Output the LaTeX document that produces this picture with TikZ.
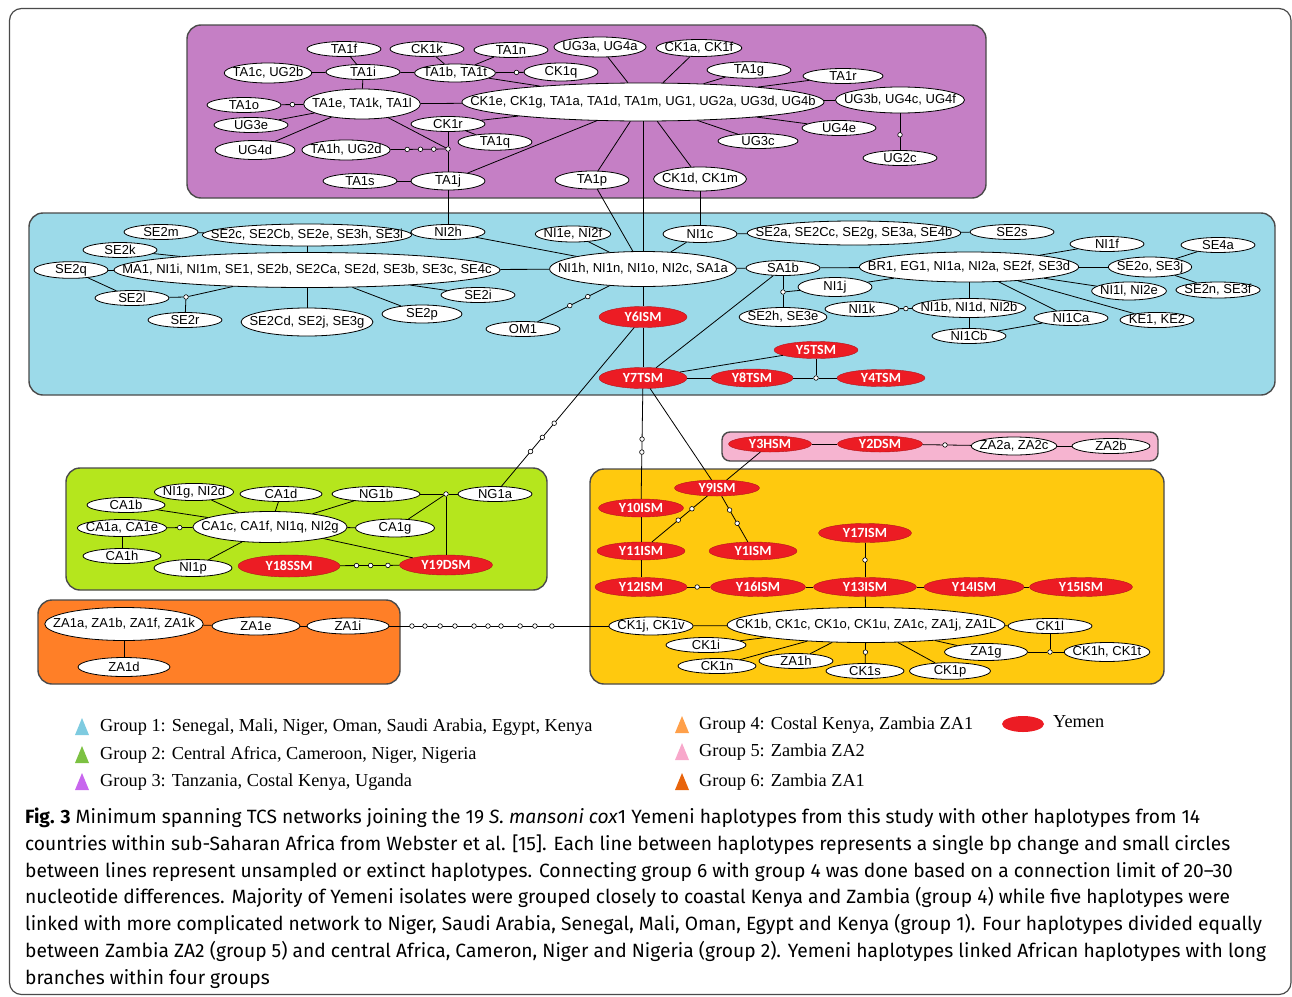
\documentclass[tikz,border=0pt]{standalone}
\usepackage{fontspec}
\newfontfamily\hapsans{Liberation Sans}
\newfontfamily\yemsans{Carlito}
\newfontfamily\legserif{Liberation Serif}
\newfontfamily\capsans{Fira Sans}
\usetikzlibrary{shapes.geometric, calc}
\definecolor{grpPurple}{HTML}{C57FC5}
\definecolor{grpBlue}{HTML}{9CDAE9}
\definecolor{grpLime}{HTML}{B5E61D}
\definecolor{grpOrange}{HTML}{FF7F27}
\definecolor{grpGold}{HTML}{FFC90E}
\definecolor{grpPink}{HTML}{F6B4D0}
\definecolor{yemRed}{HTML}{EC1C24}
\definecolor{boxEdge}{HTML}{4A4A4A}
\definecolor{legBlue}{HTML}{7ECBE0}
\definecolor{legGreen}{HTML}{7CC142}
\definecolor{legPurple}{HTML}{C866EE}
\definecolor{legOrange}{HTML}{FFA04A}
\definecolor{legPink}{HTML}{F8A8CB}
\definecolor{legRust}{HTML}{E8640C}
\newsavebox\hapbox

\begin{document}
\begin{tikzpicture}[x=1pt, y=-1pt,
  grpbox/.style={draw=boxEdge, line width=1.4pt, rounded corners=14pt},
  hap/.style={ellipse, draw, fill=white, line width=0.8pt, inner xsep=6pt, inner ysep=0pt,
    minimum width=74, minimum height=15, font=\hapsans\fontsize{13}{15}\selectfont,
    execute at begin node={\begin{lrbox}{\hapbox}},
    execute at end node={\end{lrbox}\makebox[0.707\wd\hapbox]{\usebox\hapbox}}},
  yem/.style={ellipse, draw=yemRed!75!black, fill=yemRed, text=white, inner sep=0pt,
    minimum width=88, minimum height=19, font=\yemsans\bfseries\fontsize{14}{15}\selectfont},
  mv/.style={circle, draw, fill=white, inner sep=0pt, minimum size=4.6pt, line width=0.6pt},
  link/.style={line width=0.8pt},
  unsm/.style={fill=white, draw=black, line width=0.6pt},
  legtext/.style={anchor=west, inner sep=0pt, font=\legserif\fontsize{18.3}{20}\selectfont},
  capline/.style={anchor=base west, inner sep=0pt, font=\capsans\fontsize{19.2}{22}\selectfont}]
  \useasboundingbox (0,0) rectangle (1292,996);
  % Frame
  \draw[boxEdge, line width=1.2pt, rounded corners=12pt] (9.5,8.5) rectangle (1291,994.5);
  % Group boxes
  \filldraw[grpbox, fill=grpPurple] (187,25) rectangle (986,198);
  \filldraw[grpbox, fill=grpBlue] (29,213) rectangle (1275,395);
  \filldraw[grpbox, fill=grpLime] (66,468) rectangle (547,590);
  \filldraw[grpbox, fill=grpOrange] (38,600) rectangle (400,684);
  \filldraw[grpbox, fill=grpGold] (590,469) rectangle (1164,684);
  \filldraw[grpbox, fill=grpPink, rounded corners=8pt] (722,432) rectangle (1158,461);

  % Group 3
  \node[hap] (ta1f) at (344,49) {TA1f};
  \node[hap] (ck1k) at (427,49) {CK1k};
  \node[hap] (ta1n) at (511,50) {TA1n};
  \node[hap, minimum height=20] (ug3a) at (600,47) {UG3a, UG4a};
  \node[hap, minimum height=17] (ck1a) at (699,48) {CK1a, CK1f};
  \node[hap, minimum height=20] (ta1c) at (268,73) {TA1c, UG2b};
  \node[hap] (ta1i) at (363,72) {TA1i};
  \node[hap, minimum height=18] (ta1b) at (455,73) {TA1b, TA1t};
  \node[hap, minimum height=18] (ck1q) at (561,72) {CK1q};
  \node[hap, minimum width=84] (ta1g) at (749,70) {TA1g};
  \node[hap, minimum width=80] (ta1r) at (843,76) {TA1r};
  \node[hap] (ta1o) at (244,105) {TA1o};
  \node[hap, minimum height=30] (ta1e) at (362,104) {TA1e, TA1k, TA1l};
  \node[hap, minimum height=38] (ck1e) at (643,102) {CK1e, CK1g, TA1a, TA1d, TA1m, UG1, UG2a, UG3d, UG4b};
  \node[hap, minimum height=26] (ug3b) at (900,100) {UG3b, UG4c, UG4f};
  \node[hap] (ug3e) at (251,125) {UG3e};
  \node[hap] (ck1r) at (448,124) {CK1r};
  \node[hap] (ta1q) at (495,142) {TA1q};
  \node[hap] (ug4e) at (839,128) {UG4e};
  \node[hap, minimum width=80] (ug3c) at (758,141) {UG3c};
  \node[hap] (ug2c) at (900,158) {UG2c};
  \node[hap, minimum width=80, minimum height=19] (ug4d) at (255,150) {UG4d};
  \node[hap, minimum height=20] (ta1h) at (346,150) {TA1h, UG2d};
  \node[hap] (ta1s) at (360,181) {TA1s};
  \node[hap, minimum height=18] (ta1j) at (448,181) {TA1j};
  \node[hap, minimum height=18] (ta1p) at (592,180) {TA1p};
  \node[hap, minimum height=24] (ck1d) at (700,179) {CK1d, CK1m};
  \node[mv] (jta) at (448,149) {};

  % Group 1
  \node[hap] (se2m) at (161,232) {SE2m};
  \node[hap, minimum height=22] (se2c) at (307,235) {SE2c, SE2Cb, SE2e, SE3h, SE3i};
  \node[hap] (ni2h) at (448,232) {NI2h};
  \node[hap] (se2k) at (120,250) {SE2k};
  \node[hap] (se2q) at (71,270) {SE2q};
  \node[hap, minimum height=35] (ma1) at (307,270) {MA1, NI1i, NI1m, SE1, SE2b, SE2Ca, SE2d, SE3b, SE3c, SE4c};
  \node[hap] (se2l) at (132,298) {SE2l};
  \node[hap] (se2r) at (185,320) {SE2r};
  \node[hap, minimum height=28] (se2cd) at (307,322) {SE2Cd, SE2j, SE3g};
  \node[hap, minimum width=80, minimum height=18] (se2p) at (422,314) {SE2p};
  \node[hap] (se2i) at (478,295) {SE2i};
  \node[hap, minimum height=16] (ni1e) at (573,234) {NI1e, NI2f};
  \node[hap, minimum height=17] (ni1c) at (700,234) {NI1c};
  \node[hap, minimum height=24] (se2a) at (854,233) {SE2a, SE2Cc, SE2g, SE3a, SE4b};
  \node[hap, minimum width=84] (se2s) at (1012,232) {SE2s};
  \node[hap, minimum height=35] (ni1h) at (643,269) {NI1h, NI1n, NI1o, NI2c, SA1a};
  \node[hap] (sa1b) at (783,268) {SA1b};
  \node[hap, minimum height=30] (br1) at (969,267) {BR1, EG1, NI1a, NI2a, SE2f, SE3d};
  \node[hap, minimum height=19] (ni1j) at (835,287) {NI1j};
  \node[hap] (ni1k) at (862,309) {NI1k};
  \node[hap, minimum height=19] (se2h) at (783,317) {SE2h, SE3e};
  \node[hap] (om1) at (523,329) {OM1};
  \node[hap] (ni1f) at (1107,244) {NI1f};
  \node[hap] (se4a) at (1218,245) {SE4a};
  \node[hap, minimum height=20] (se2o) at (1150,267) {SE2o, SE3j};
  \node[hap, minimum height=18] (ni1l) at (1129,291) {NI1l, NI2e};
  \node[hap, minimum height=16] (se2n) at (1218,290) {SE2n, SE3f};
  \node[hap, minimum height=19] (ni1b) at (969,308) {NI1b, NI1d, NI2b};
  \node[hap] (ni1ca) at (1071,318) {NI1Ca};
  \node[hap] (ke1) at (1157,320) {KE1, KE2};
  \node[hap] (ni1cb) at (969,336) {NI1Cb};
  \node[mv] (jse) at (186,297) {};
  \node[mv] (jsa) at (783,292) {};
  \node[yem, minimum height=21] (y6ism) at (643,317) {Y6ISM};
  \node[yem, minimum height=21] (y7tsm) at (643,378) {Y7TSM};
  \node[yem, minimum width=84, minimum height=17] (y5tsm) at (816,350) {Y5TSM};
  \node[yem, minimum width=82, minimum height=18] (y8tsm) at (752,378) {Y8TSM};
  \node[yem, minimum height=17] (y4tsm) at (881,378) {Y4TSM};
  \node[mv] (jy) at (816,378) {};

  % Group 2
  \node[hap, minimum height=17] (ni1g) at (194,492) {NI1g, NI2d};
  \node[hap, minimum width=82] (ca1d) at (281,494) {CA1d};
  \node[hap, minimum width=88] (ng1b) at (376,494) {NG1b};
  \node[hap] (ng1a) at (495,494) {NG1a};
  \node[hap, minimum width=78] (ca1b) at (126,505) {CA1b};
  \node[hap, minimum height=17] (ca1a) at (122,528) {CA1a, CA1e};
  \node[hap, minimum height=31] (ca1c) at (270,527) {CA1c, CA1f, NI1q, NI2g};
  \node[hap, minimum width=79, minimum height=18] (ca1g) at (395,528) {CA1g};
  \node[hap, minimum width=78] (ca1h) at (122,556) {CA1h};
  \node[hap, minimum width=78, minimum height=17] (ni1p) at (193,568) {NI1p};
  \node[yem, minimum width=102, minimum height=22] (y18ssm) at (289,566) {Y18SSM};
  \node[yem, minimum width=93, minimum height=20] (y19dsm) at (446,565) {Y19DSM};
  \node[mv] (jng) at (446,494) {};

  % Group 6
  \node[hap, minimum height=33] (za1a) at (124,624) {ZA1a, ZA1b, ZA1f, ZA1k};
  \node[hap, minimum width=88, minimum height=18] (za1e) at (256,626) {ZA1e};
  \node[hap, minimum width=82, minimum height=16] (za1i) at (348,626) {ZA1i};
  \node[hap, minimum width=92, minimum height=19] (za1d) at (124,667) {ZA1d};

  % Group 5
  \node[yem, minimum width=83, minimum height=16] (y3hsm) at (770,444) {Y3HSM};
  \node[yem, minimum width=85, minimum height=16] (y2dsm) at (880,444) {Y2DSM};
  \node[hap, minimum height=18] (za2a) at (1014,446) {ZA2a, ZA2c};
  \node[hap, minimum width=78] (za2b) at (1111,446) {ZA2b};

  % Group 4
  \node[yem, minimum width=85, minimum height=16] (y9ism) at (717,488) {Y9ISM};
  \node[yem, minimum width=85, minimum height=18] (y10ism) at (641,508) {Y10ISM};
  \node[yem, minimum height=18] (y11ism) at (641,551) {Y11ISM};
  \node[yem, minimum height=18] (y1ism) at (753,551) {Y1ISM};
  \node[yem, minimum width=93, minimum height=19] (y17ism) at (865,533) {Y17ISM};
  \node[yem, minimum width=92] (y12ism) at (641,587) {Y12ISM};
  \node[yem, minimum width=95] (y16ism) at (758,587) {Y16ISM};
  \node[yem, minimum width=103] (y13ism) at (865,587) {Y13ISM};
  \node[yem, minimum width=100] (y14ism) at (974,587) {Y14ISM};
  \node[yem, minimum width=103] (y15ism) at (1081,587) {Y15ISM};
  \node[hap, minimum height=18] (ck1j) at (651,626) {CK1j, CK1v};
  \node[hap, minimum height=35] (ck1b) at (866,625) {CK1b, CK1c, CK1o, CK1u, ZA1c, ZA1j, ZA1L};
  \node[hap, minimum width=84] (ck1l) at (1050,626) {CK1l};
  \node[hap, minimum width=80] (ck1i) at (706,645) {CK1i};
  \node[hap, minimum width=83, minimum height=17] (za1g) at (986,652) {ZA1g};
  \node[hap, minimum height=19] (ck1h) at (1107,652) {CK1h, CK1t};
  \node[hap, minimum width=78] (ck1n) at (717,666) {CK1n};
  \node[hap] (za1h) at (796,661) {ZA1h};
  \node[hap, minimum width=78] (ck1s) at (865,671) {CK1s};
  \node[hap, minimum width=81] (ck1p) at (950,671) {CK1p};
  \node[mv] (jck) at (1050,652) {};

  % Connections
  \foreach \a/\b in {ta1f/ta1i, ta1c/ta1i, ta1i/ta1b, ck1k/ta1b, ta1n/ta1b, ta1b/ck1q,
      ta1b/ck1e, ta1i/ta1e, ta1o/ta1e, ta1e/ck1e, ug3e/ta1e, ug4d/ta1e, ta1e/jta,
      ck1r/ck1e, ck1r/ta1q, ck1r/jta, jta/ta1j, ta1h/jta, ta1s/ta1j, ta1j/ck1e,
      ug3a/ck1e, ck1a/ck1e, ta1g/ck1e, ta1r/ck1e, ck1e/ug3b, ck1e/ug4e, ck1e/ug3c,
      ck1e/ta1p, ck1e/ck1d, ug3b/ug2c,
      ta1j/ni2h, ck1e/ni1h, ta1p/ni1h, ck1d/ni1c}
    \draw[link] (\a) -- (\b);
  \foreach \a/\b in {se2m/se2c, se2c/ma1, se2c/ni2h, se2k/ma1, se2q/ma1, se2q/se2l,
      se2l/jse, jse/ma1, jse/se2r, ma1/se2cd, ma1/se2p, ma1/se2i, ma1/ni1h, ni2h/ni1h,
      ni1e/ni1h, ni1c/ni1h, ni1c/se2a, se2a/se2s, ni1h/sa1b, sa1b/br1, sa1b/jsa,
      jsa/ni1j, jsa/se2h, ni1j/br1, sa1b/y7tsm, ni1h/om1, ni1h/y6ism, y6ism/y7tsm,
      y7tsm/y8tsm, y7tsm/y5tsm, y8tsm/jy, jy/y4tsm, jy/y5tsm, br1/ni1f, br1/se2o,
      se2o/se4a, se2o/se2n, br1/ni1l, br1/ke1, br1/ni1ca, br1/ni1b, ni1k/ni1b,
      ni1b/ni1cb, ni1cb/ni1ca,
      y6ism/ng1a, y7tsm/y10ism, y7tsm/y9ism, za1i/ck1j}
    \draw[link] (\a) -- (\b);
  \foreach \a/\b in {ni1g/ca1c, ca1d/ca1c, ng1b/ca1c, ca1b/ca1c, ca1a/ca1c, ca1a/ca1h,
      ca1c/ca1g, ca1c/ni1p, ca1c/y19dsm, y18ssm/y19dsm, ng1b/jng, jng/ng1a, jng/ca1g,
      jng/y19dsm, za1a/za1e, za1e/za1i, za1a/za1d,
      y3hsm/y2dsm, y2dsm/za2a, za2a/za2b, y3hsm/y9ism,
      y10ism/y11ism, y9ism/y11ism, y9ism/y1ism, y11ism/y12ism, y12ism/y16ism,
      y16ism/y13ism, y17ism/y13ism, y13ism/y14ism, y14ism/y15ism, y13ism/ck1b,
      ck1j/ck1b, ck1b/ck1l, ck1b/ck1i, ck1b/ck1n, ck1b/za1h, ck1b/ck1s, ck1b/ck1p,
      ck1b/za1g, ck1l/jck, za1g/jck, jck/ck1h}
    \draw[link] (\a) -- (\b);

  % Unsampled haplotypes
  \foreach \a/\b/\p in {ta1o/ta1e/0.41, ta1b/ck1q/0.58, ta1h/jta/0.60, ta1h/jta/0.73,
      ta1h/jta/0.86, ug3b/ug2c/0.60, ni1h/om1/0.46, ni1h/om1/0.61, y6ism/ng1a/0.60,
      y6ism/ng1a/0.68, y6ism/ng1a/0.76, y7tsm/y10ism/0.47, y7tsm/y10ism/0.57,
      y18ssm/y19dsm/0.43, y18ssm/y19dsm/0.52, y18ssm/y19dsm/0.63, ca1a/ca1c/0.39,
      y2dsm/za2a/0.485, y9ism/y11ism/0.33, y9ism/y11ism/0.51, y9ism/y1ism/0.35,
      y9ism/y1ism/0.56, y12ism/y16ism/0.48, y17ism/y13ism/0.5, ck1b/ck1s/0.59,
      ni1k/ni1b/0.41}
    \filldraw[unsm] ($(\a)!\p!(\b)$) circle[radius=2.3pt];
  \foreach \p in {0.211, 0.254, 0.304, 0.353, 0.416, 0.462, 0.505, 0.568, 0.617, 0.673}
    \filldraw[unsm] ($(za1i)!\p!(ck1j)$) circle[radius=2.3pt];

  % Legend
  \foreach \col/\yy/\txt [count=\i] in {legBlue/727/{Group 1: Senegal, Mali, Niger, Oman, Saudi Arabia, Egypt, Kenya},
      legGreen/755/{Group 2: Central Africa, Cameroon, Niger, Nigeria},
      legPurple/782/{Group 3: Tanzania, Costal Kenya, Uganda}} {
    \fill[\col] (82,\yy-9) -- (89,\yy+8) -- (75,\yy+8) -- cycle;
    \node[legtext] (legl\i) at (100,\yy) {\txt};
  }
  \foreach \col/\yy/\txt [count=\i] in {legOrange/725/{Group 4: Costal Kenya, Zambia ZA1},
      legPink/752/{Group 5: Zambia ZA2},
      legRust/782/{Group 6: Zambia ZA1}} {
    \fill[\col] (682,\yy-9) -- (689,\yy+8) -- (675,\yy+8) -- cycle;
    \node[legtext] (legr\i) at (699,\yy) {\txt};
  }
  \fill[yemRed] (1023,724) ellipse [x radius=21pt, y radius=8pt];
  \node[legtext] (legy) at (1053,722) {Yemen};

  % Caption
  \foreach \txt [count=\i] in {
      {\textbf{Fig. 3} Minimum spanning TCS networks joining the 19 \textit{S. mansoni cox}1 Yemeni haplotypes from this study with other haplotypes from 14},
      {countries within sub-Saharan Africa from Webster et al. [15]. Each line between haplotypes represents a single bp change and small circles},
      {between lines represent unsampled or extinct haplotypes. Connecting group 6 with group 4 was done based on a connection limit of 20–30},
      {nucleotide differences. Majority of Yemeni isolates were grouped closely to coastal Kenya and Zambia (group 4) while five haplotypes were},
      {linked with more complicated network to Niger, Saudi Arabia, Senegal, Mali, Oman, Egypt and Kenya (group 1). Four haplotypes divided equally},
      {between Zambia ZA2 (group 5) and central Africa, Cameron, Niger and Nigeria (group 2). Yemeni haplotypes linked African haplotypes with long},
      {branches within four groups}}
    \node[capline] (cap\i) at (25,{796.7+26.8*\i}) {\txt};
\end{tikzpicture}
\end{document}
